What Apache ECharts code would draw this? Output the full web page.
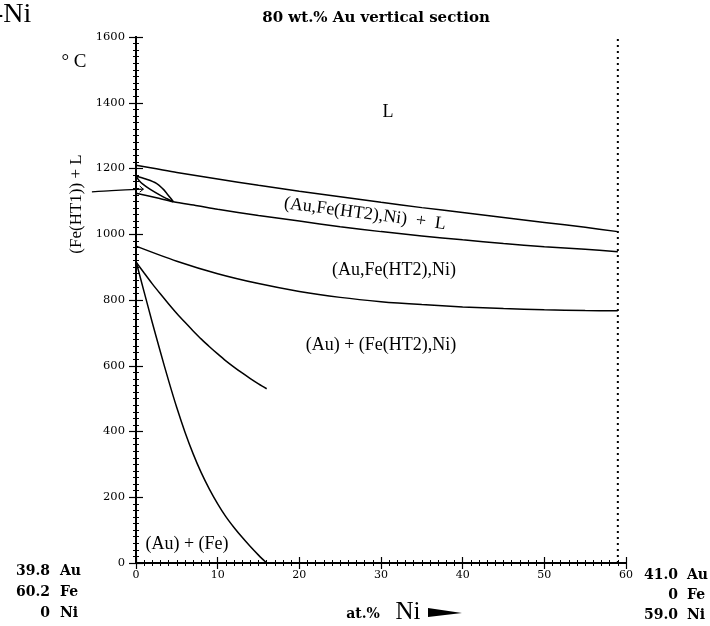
<!DOCTYPE html>
<html><head><meta charset="utf-8">
<script src="https://cdn.jsdelivr.net/npm/echarts@6/dist/echarts.min.js"></script>
<style>html,body{margin:0;padding:0;background:#fff}#c{width:710px;height:626px}</style>
</head><body><div id="c"></div>
<script>
// Phase boundaries: [at.% Ni, temperature °C]
const liquidus   = [[0,1210],[2.5,1199],[5,1188],[10,1168],[15,1149],[20,1131],[25,1114],[30,1097],[35,1081],[40,1066],[45,1051],[50,1036],[55,1021],[59,1008]];
const solidus    = [[0,1125],[2.5,1111],[4.57,1099],[7.5,1087],[10,1076],[15,1057],[20,1040],[25,1023],[30,1008],[35,995],[40,983],[45,972],[50,962],[55,954],[59,947]];
const lensUpper  = [[0,1177],[1.2,1168],[2.5,1155],[3.3,1138],[3.75,1125],[4.2,1111],[4.57,1099]];
const lensLower  = [[0,1177],[0.4,1163],[0.8,1153],[1.7,1137],[3,1118],[3.8,1108],[4.57,1099]];
const solvus     = [[0,964],[5,918],[10,880],[15,850],[20,826],[25,808],[30,795],[35,786],[40,779],[45,774],[50,770],[55,768],[59,767]];
const boundaryA  = [[0,916],[1,882],[2,849],[3,818],[4,788],[5,759],[6,732],[7,706],[8,681],[9,658],[10,636],[11,615],[12,596],[13,578],[14,561],[15,545],[16,530]];
const boundaryB  = [[0,918],[1,824],[2,731],[3,641],[4,554],[5,472],[6,398],[7,332],[8,274],[9,224],[10,180],[11,141],[12,108],[13,78],[14,50],[15,24],[16,0]];
const limitLine  = [[59,0],[59,1600]];
const arrowLine  = [[-5.4,1129],[-3,1133],[0.9,1137]];
const arrowHead  = [[0.45,1147],[0.9,1137],[0.45,1128]];
const xTickValues = [0,10,20,30,40,50,60];
const yTickValues = [0,200,400,600,800,1000,1200,1400,1600];
const leftComp  = [['39.8','Au'],['60.2','Fe'],['0','Ni']];
const rightComp = [['41.0','Au'],['0','Fe'],['59.0','Ni']];

const SERIF = '"Liberation Serif", "DejaVu Serif", serif';
const DSERIF = '"DejaVu Serif", serif';
const chart = echarts.init(document.getElementById('c'), null, {renderer:'canvas'});

function lineSeries(data, extra) {
  return Object.assign({
    type:'line', data, symbol:'none', smooth:0.3,
    lineStyle:{color:'#000', width:1.5}, silent:true, animation:false
  }, extra || {});
}

const axisCommon = {
  axisLine:{lineStyle:{color:'#000', width:2}},
  splitLine:{show:false},
  minorTick:{show:true, splitNumber:10, length:3, lineStyle:{color:'#000', width:1}}
};

const graphics = [
  {type:'text', left:-6, top:1, style:{text:'-Ni', font:'28px '+SERIF, fill:'#000'}},
  {type:'text', x:376, y:18, style:{text:'80 wt.% Au vertical section', font:'bold 15px '+DSERIF, fill:'#000', align:'center', verticalAlign:'middle'}},
  {type:'text', x:74, y:62, style:{text:'° C', font:'19px '+SERIF, fill:'#000', align:'center', verticalAlign:'middle'}},
  {type:'text', x:77, y:204, rotation:Math.PI/2, style:{text:'(Fe(HT1)) + L', font:'17px '+SERIF, fill:'#000', align:'center', verticalAlign:'middle'}},
  {type:'text', x:388, y:112, style:{text:'L', font:'18px '+SERIF, fill:'#000', align:'center', verticalAlign:'middle'}},
  {type:'text', x:365, y:214, rotation:-0.13, style:{text:'(Au,Fe(HT2),Ni)  +  L', font:'18px '+SERIF, fill:'#000', align:'center', verticalAlign:'middle'}},
  {type:'text', x:394, y:270, style:{text:'(Au,Fe(HT2),Ni)', font:'18px '+SERIF, fill:'#000', align:'center', verticalAlign:'middle'}},
  {type:'text', x:381, y:345, style:{text:'(Au) + (Fe(HT2),Ni)', font:'18px '+SERIF, fill:'#000', align:'center', verticalAlign:'middle'}},
  {type:'text', x:187, y:544, style:{text:'(Au) + (Fe)', font:'18px '+SERIF, fill:'#000', align:'center', verticalAlign:'middle'}},
  {type:'text', x:363, y:614, style:{text:'at.%', font:'bold 14px '+DSERIF, fill:'#000', align:'center', verticalAlign:'middle'}},
  {type:'text', x:408, y:612, style:{text:'Ni', font:'25px '+SERIF, fill:'#000', align:'center', verticalAlign:'middle'}},
  {type:'polygon', shape:{points:[[428,608],[462,613],[428,617]]}, style:{fill:'#000'}}
];
leftComp.forEach((r,i)=>{
  graphics.push({type:'text', x:50, y:571+i*21, style:{text:r[0], font:'bold 14px '+DSERIF, fill:'#000', align:'right', verticalAlign:'middle'}});
  graphics.push({type:'text', x:60, y:571+i*21, style:{text:r[1], font:'bold 14px '+DSERIF, fill:'#000', align:'left', verticalAlign:'middle'}});
});
rightComp.forEach((r,i)=>{
  graphics.push({type:'text', x:678, y:575+i*20, style:{text:r[0], font:'bold 14px '+DSERIF, fill:'#000', align:'right', verticalAlign:'middle'}});
  graphics.push({type:'text', x:687, y:575+i*20, style:{text:r[1], font:'bold 14px '+DSERIF, fill:'#000', align:'left', verticalAlign:'middle'}});
});

chart.setOption({
  animation:false,
  backgroundColor:'#fff',
  grid:{left:136, right:84, top:37, bottom:63, containLabel:false},
  xAxis:[
    Object.assign({}, axisCommon, {type:'value', position:'bottom', min:0, max:60, interval:10,
      axisTick:{inside:true, length:6, lineStyle:{color:'#000', width:1.2}},
      axisLabel:{margin:7, fontFamily:DSERIF, fontSize:11, color:'#000',
        formatter:v=>xTickValues.includes(v)?String(v):''}}),
    Object.assign({}, axisCommon, {type:'value', position:'top', min:0, max:60, interval:10,
      axisTick:{inside:true, length:6, lineStyle:{color:'#000', width:1.2}},
      axisLabel:{show:false}})
  ],
  yAxis:[
    Object.assign({}, axisCommon, {type:'value', position:'left', min:0, max:1600, interval:200,
      axisTick:{inside:false, length:7, lineStyle:{color:'#000', width:1.2}},
      axisLabel:{margin:11, fontFamily:DSERIF, fontSize:11.5, color:'#000',
        formatter:v=>yTickValues.includes(v)?String(v):''}}),
    Object.assign({}, axisCommon, {type:'value', position:'right', min:0, max:1600, interval:200,
      axisTick:{inside:false, length:7, lineStyle:{color:'#000', width:1.2}},
      axisLabel:{show:false}})
  ],
  series:[
    lineSeries(liquidus),
    lineSeries(solidus),
    lineSeries(lensUpper),
    lineSeries(lensLower),
    lineSeries(solvus),
    lineSeries(boundaryA),
    lineSeries(boundaryB),
    lineSeries(limitLine, {smooth:false, lineStyle:{color:'#000', width:2, type:[2,4]}})
  ],
  graphic:graphics
});

// Arrow pointing at the (Fe(HT1)) + L field, drawn outside the grid from data coordinates
const toPx = p => chart.convertToPixel({xAxisIndex:0, yAxisIndex:0}, p);
chart.setOption({graphic: graphics.concat([
  {type:'polyline', shape:{points:arrowLine.map(toPx), smooth:0.3}, style:{stroke:'#000', lineWidth:1.3, fill:null}},
  {type:'polyline', shape:{points:arrowHead.map(toPx)}, style:{stroke:'#000', lineWidth:1, fill:null}}
])});
</script></body></html>
